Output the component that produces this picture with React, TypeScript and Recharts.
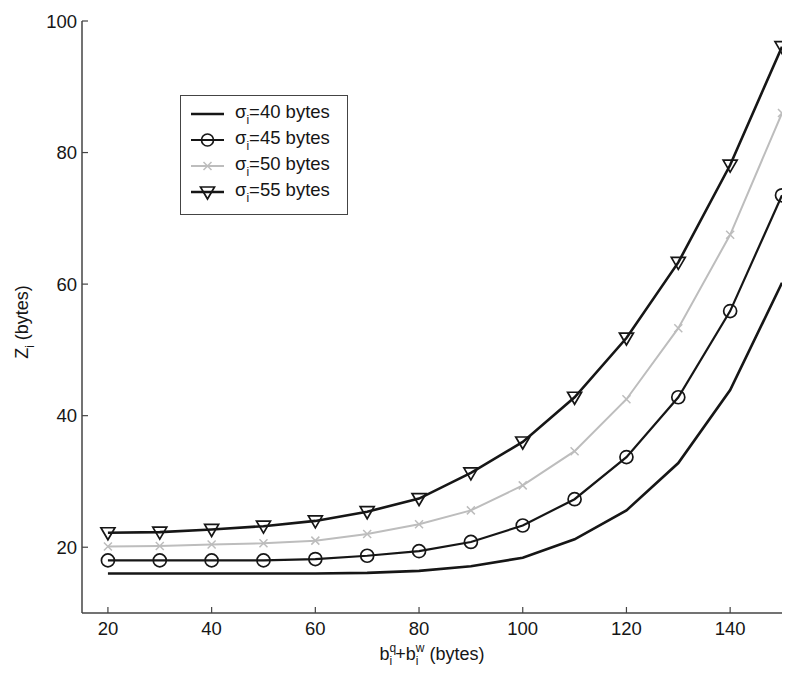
import React from 'react';
import { LineChart, Line, XAxis, YAxis, Legend } from 'recharts';

// b_i^q + b_i^w (bytes)
const xValues = [20, 30, 40, 50, 60, 70, 80, 90, 100, 110, 120, 130, 140, 150];
const sigma40 = [16.0, 16.0, 16.0, 16.0, 16.0, 16.1, 16.4, 17.1, 18.4, 21.2, 25.6, 32.8, 43.9, 60.2];
const sigma45 = [18.0, 18.0, 18.0, 18.0, 18.2, 18.7, 19.4, 20.8, 23.3, 27.3, 33.7, 42.8, 55.9, 73.5];
const sigma50 = [20.1, 20.2, 20.4, 20.6, 21.0, 22.0, 23.5, 25.6, 29.4, 34.6, 42.5, 53.3, 67.5, 86.0];
const sigma55 = [22.2, 22.3, 22.7, 23.2, 24.0, 25.4, 27.4, 31.3, 36.0, 42.8, 51.8, 63.3, 78.1, 96.1];

const xTicks = [20, 40, 60, 80, 100, 120, 140];
const yTicks = [20, 40, 60, 80, 100];
const legendLabels = ['=40 bytes', '=45 bytes', '=50 bytes', '=55 bytes'];

const data = xValues.map((x, i) => ({
  x,
  s40: sigma40[i],
  s45: sigma45[i],
  s50: sigma50[i],
  s55: sigma55[i],
}));

const FONT = 'Liberation Sans, Arial, sans-serif';
const INK = '#161616';
const GRAY = '#bdbdbd';
const AXIS = '#444';

const CircleDot = (props: any) => {
  const { cx, cy, index } = props;
  return <circle key={`c-${index}`} cx={cx} cy={cy} r={6.5} fill="none" stroke={INK} strokeWidth={1.7} />;
};

const TriangleDot = (props: any) => {
  const { cx, cy, index } = props;
  return (
    <path
      key={`t-${index}`}
      d={`M${cx - 7},${cy - 5} L${cx + 7},${cy - 5} L${cx},${cy + 7} Z`}
      fill="none"
      stroke={INK}
      strokeWidth={1.7}
    />
  );
};

const CrossDot = (props: any) => {
  const { cx, cy, index } = props;
  return (
    <path
      key={`x-${index}`}
      d={`M${cx - 4},${cy - 4} L${cx + 4},${cy + 4} M${cx - 4},${cy + 4} L${cx + 4},${cy - 4}`}
      stroke={GRAY}
      strokeWidth={1.5}
    />
  );
};

const XLabel = (props: any) => {
  const { viewBox } = props;
  const cx = viewBox.x + viewBox.width / 2;
  const y = viewBox.y + 47;
  return (
    <text x={cx} y={y} textAnchor="middle" fontFamily={FONT} fontSize={18} fill={INK}>
      <tspan>b</tspan>
      <tspan dy={-8} fontSize={12}>q</tspan>
      <tspan dx={-6.7} dy={13} fontSize={12}>i</tspan>
      <tspan dx={3} dy={-5}>+b</tspan>
      <tspan dy={-8} fontSize={12}>w</tspan>
      <tspan dx={-8.7} dy={13} fontSize={12}>i</tspan>
      <tspan dx={6} dy={-5}> (bytes)</tspan>
    </text>
  );
};

const YLabel = () => {
  const x = 28;
  const y = 322;
  return (
    <text
      x={x}
      y={y}
      transform={`rotate(-90 ${x} ${y})`}
      textAnchor="middle"
      fontFamily={FONT}
      fontSize={18}
      fill={INK}
    >
      <tspan>Z</tspan>
      <tspan dy={6} fontSize={12}>i</tspan>
      <tspan dy={-6}> (bytes)</tspan>
    </text>
  );
};

const sample = (i: number) => {
  const y = 10;
  if (i === 0) return <line x1={10} y1={y} x2={43} y2={y} stroke={INK} strokeWidth={2.6} />;
  if (i === 1)
    return (
      <g>
        <line x1={10} y1={y} x2={43} y2={y} stroke={INK} strokeWidth={2.2} />
        <circle cx={26.5} cy={y} r={6} fill="none" stroke={INK} strokeWidth={1.7} />
      </g>
    );
  if (i === 2)
    return (
      <g>
        <line x1={10} y1={y} x2={43} y2={y} stroke={GRAY} strokeWidth={2} />
        <path d={`M22.5,6 L30.5,14 M22.5,14 L30.5,6`} stroke={GRAY} strokeWidth={1.5} />
      </g>
    );
  return (
    <g>
      <line x1={10} y1={y} x2={43} y2={y} stroke={INK} strokeWidth={2.6} />
      <path d={`M19.5,5 L33.5,5 L26.5,17 Z`} fill="none" stroke={INK} strokeWidth={1.7} />
    </g>
  );
};

const LegendBox = () => (
  <div
    style={{
      width: 166,
      height: 118,
      border: `1.5px solid ${AXIS}`,
      background: '#fff',
      position: 'relative',
      fontFamily: FONT,
      fontSize: 18.5,
      color: INK,
    }}
  >
    {legendLabels.map((label, i) => (
      <div
        key={label}
        style={{ position: 'absolute', left: 0, top: 8 + i * 26, height: 20, width: 166 }}
      >
        <svg width={50} height={20} style={{ position: 'absolute', left: 0, top: 0 }}>
          {sample(i)}
        </svg>
        <span style={{ position: 'absolute', left: 54, top: -2, whiteSpace: 'nowrap', lineHeight: '20px' }}>
          σ<sub style={{ fontSize: 12, verticalAlign: '-6px' }}>i</sub>
          {label}
        </span>
      </div>
    ))}
  </div>
);

export default function App() {
  const tickStyle = { fontFamily: FONT, fontSize: 18.5, fill: INK };
  return (
    <div style={{ position: 'absolute', left: 0, top: 0, width: 786, height: 679, background: '#fff' }}>
      <LineChart width={786} height={679} data={data} margin={{ top: 21, right: 4, left: 22, bottom: 26 }}>
        <XAxis
          xAxisId="bottom"
          dataKey="x"
          type="number"
          domain={[15, 150]}
          ticks={xTicks}
          allowDataOverflow
          height={40}
          tickSize={-6}
          tickMargin={15}
          tick={tickStyle}
          stroke={AXIS}
          axisLine={{ stroke: AXIS, strokeWidth: 1.5 }}
          tickLine={{ stroke: AXIS, strokeWidth: 1.2 }}
          label={<XLabel />}
        />
        <XAxis
          xAxisId="top"
          dataKey="x"
          type="number"
          orientation="top"
          domain={[15, 150]}
          ticks={xTicks}
          allowDataOverflow
          height={0}
          tickSize={-6}
          tickFormatter={() => ''}
          stroke={AXIS}
          axisLine={{ stroke: AXIS, strokeWidth: 1.5 }}
          tickLine={{ stroke: AXIS, strokeWidth: 1.2 }}
        />
        <YAxis
          yAxisId="left"
          type="number"
          domain={[10, 100]}
          ticks={yTicks}
          allowDataOverflow
          width={60}
          tickSize={-6}
          tickMargin={11}
          tick={tickStyle}
          stroke={AXIS}
          axisLine={{ stroke: AXIS, strokeWidth: 1.5 }}
          tickLine={{ stroke: AXIS, strokeWidth: 1.2 }}
          label={<YLabel />}
        />
        <YAxis
          yAxisId="right"
          orientation="right"
          type="number"
          domain={[10, 100]}
          ticks={yTicks}
          allowDataOverflow
          width={0}
          tickSize={-6}
          tickFormatter={() => ''}
          stroke={AXIS}
          axisLine={{ stroke: AXIS, strokeWidth: 1.5 }}
          tickLine={{ stroke: AXIS, strokeWidth: 1.2 }}
        />
        <Legend
          layout="horizontal"
          verticalAlign="middle"
          align="center"
          content={() => <LegendBox />}
          wrapperStyle={{ left: 180, top: 95, width: 170, height: 122 }}
        />
        <Line
          xAxisId="bottom"
          yAxisId="left"
          type="linear"
          dataKey="s50"
          stroke={GRAY}
          strokeWidth={2}
          dot={CrossDot}
          isAnimationActive={false}
        />
        <Line
          xAxisId="bottom"
          yAxisId="left"
          type="linear"
          dataKey="s40"
          stroke={INK}
          strokeWidth={2.6}
          dot={false}
          isAnimationActive={false}
        />
        <Line
          xAxisId="bottom"
          yAxisId="left"
          type="linear"
          dataKey="s45"
          stroke={INK}
          strokeWidth={2.2}
          dot={CircleDot}
          isAnimationActive={false}
        />
        <Line
          xAxisId="bottom"
          yAxisId="left"
          type="linear"
          dataKey="s55"
          stroke={INK}
          strokeWidth={2.6}
          dot={TriangleDot}
          isAnimationActive={false}
        />
      </LineChart>
    </div>
  );
}
